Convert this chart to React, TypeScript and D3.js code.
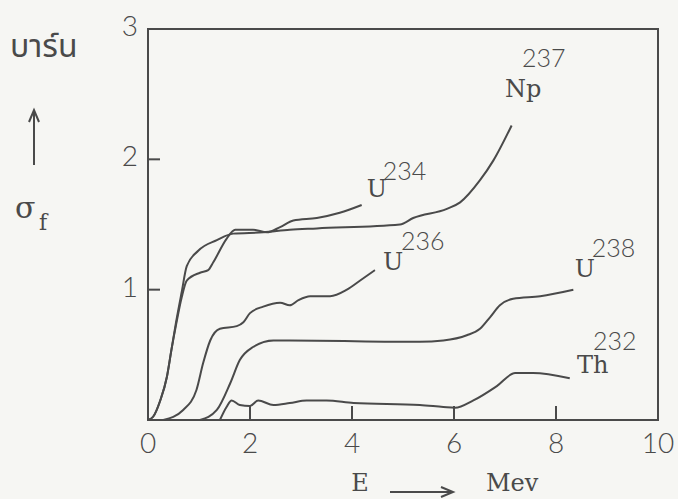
import React, { useEffect, useRef } from 'react';
import * as d3 from 'd3';

// fission cross-section curves (E in MeV, sigma in barn)
const u234 = [
  [0, 0], [0.1, 0.025], [0.24, 0.15], [0.37, 0.33], [0.46, 0.54], [0.55, 0.73], [0.66, 0.94],
  [0.76, 1.07], [1.02, 1.13], [1.18, 1.15], [1.28, 1.21], [1.54, 1.39], [1.71, 1.46],
  [2.06, 1.46], [2.33, 1.44], [2.59, 1.48], [2.85, 1.53], [3.31, 1.55], [3.76, 1.59], [4.19, 1.65]
];
const np237 = [
  [0, 0], [0.1, 0.025], [0.24, 0.15], [0.37, 0.33], [0.46, 0.54], [0.55, 0.75], [0.66, 0.98],
  [0.76, 1.18], [0.99, 1.3], [1.35, 1.38], [1.67, 1.43], [2.26, 1.44], [2.78, 1.46], [3.31, 1.47],
  [4.94, 1.5], [5.2, 1.55], [5.86, 1.62], [6.12, 1.67], [6.51, 1.84], [6.77, 1.99], [7.13, 2.26]
];
const u236 = [
  [0.3, 0], [0.69, 0.077], [0.95, 0.23], [1.08, 0.435], [1.22, 0.61], [1.41, 0.7], [1.74, 0.72],
  [1.87, 0.75], [2.0, 0.82], [2.26, 0.87], [2.59, 0.9], [2.78, 0.88], [2.95, 0.92], [3.18, 0.95],
  [3.57, 0.95], [3.9, 1.0], [4.16, 1.07], [4.45, 1.15]
];
const u238 = [
  [1.02, 0], [1.35, 0.077], [1.61, 0.28], [1.8, 0.46], [2.06, 0.56], [2.46, 0.61], [2.78, 0.61],
  [5.33, 0.6], [5.79, 0.61], [6.25, 0.65], [6.51, 0.7], [6.71, 0.79], [6.9, 0.88], [7.16, 0.93],
  [7.69, 0.95], [8.34, 1.0]
];
const th232 = [
  [1.41, 0], [1.54, 0.1], [1.64, 0.15], [1.8, 0.115], [2.0, 0.107], [2.16, 0.15], [2.46, 0.115],
  [2.78, 0.13], [3.11, 0.15], [3.5, 0.15], [4.03, 0.13], [5.33, 0.115], [5.79, 0.1], [6.02, 0.094],
  [6.38, 0.15], [6.84, 0.26], [7.2, 0.36], [7.55, 0.36], [8.27, 0.32]
];

const xTicks = [0, 2, 4, 6, 8, 10];
const yTicks = [1, 2, 3];
const innerTicks = [2, 4, 6, 8];

// label text, mass number, anchor (E, sigma)
const labels = [
  { sym: 'U', mass: '234', e: 4.29, s: 1.71, sx: 16, sy: -17 },
  { sym: 'Np', mass: '237', e: 7.0, s: 2.48, sx: 17, sy: -30 },
  { sym: 'U', mass: '236', e: 4.61, s: 1.15, sx: 18, sy: -20 },
  { sym: 'U', mass: '238', e: 8.37, s: 1.1, sx: 17, sy: -20 },
  { sym: 'Th', mass: '232', e: 8.41, s: 0.36, sx: 16, sy: -23 }
];

const ink = '#4a4a4a';

function App() {
  const ref = useRef(null);

  useEffect(() => {
    const svg = d3.select(ref.current);
    svg.selectAll('*').remove();

    const x = d3.scaleLinear().domain([0, 10]).range([148, 658]);
    const y = d3.scaleLinear().domain([0, 3]).range([420, 29]);

    svg.append('rect').attr('width', 678).attr('height', 499).attr('fill', '#f6f6f3');

    // frame
    svg.append('path')
      .attr('d', `M${x(0)},${y(3)}H${x(10)}V${y(0)}H${x(0)}Z`)
      .attr('fill', 'none').attr('stroke', ink).attr('stroke-width', 2);

    svg.selectAll('.yt').data(yTicks.slice(0, 2)).enter().append('line')
      .attr('x1', x(0)).attr('x2', x(0) + 12)
      .attr('y1', d => y(d)).attr('y2', d => y(d))
      .attr('stroke', ink).attr('stroke-width', 2);

    svg.selectAll('.xt').data(innerTicks).enter().append('line')
      .attr('x1', d => x(d)).attr('x2', d => x(d))
      .attr('y1', y(0)).attr('y2', y(0) - 14)
      .attr('stroke', ink).attr('stroke-width', 2);

    const tickFont = 'Lato, "DejaVu Sans", sans-serif';
    svg.selectAll('.xl').data(xTicks).enter().append('text')
      .attr('x', d => x(d)).attr('y', 453)
      .attr('text-anchor', 'middle')
      .attr('font-family', tickFont).attr('font-weight', 300).attr('font-size', 28)
      .attr('fill', ink).text(d => d);

    svg.selectAll('.yl').data(yTicks).enter().append('text')
      .attr('x', 138).attr('y', d => y(d) + 7)
      .attr('text-anchor', 'end')
      .attr('font-family', tickFont).attr('font-weight', 300).attr('font-size', 28)
      .attr('fill', ink).text(d => d);

    const line = d3.line()
      .x(d => x(d[0]))
      .y(d => y(d[1]))
      .curve(d3.curveMonotoneX);

    [u234, np237, u236, u238, th232].forEach(s => {
      svg.append('path')
        .datum(s)
        .attr('fill', 'none')
        .attr('stroke', ink)
        .attr('stroke-width', 2)
        .attr('stroke-linejoin', 'round')
        .attr('d', line);
    });

    const slab = '"DejaVu Serif", serif';
    labels.forEach(l => {
      svg.append('text')
        .attr('x', x(l.e)).attr('y', y(l.s))
        .attr('font-family', slab).attr('font-size', 24)
        .attr('fill', ink).text(l.sym);
      svg.append('text')
        .attr('x', x(l.e) + l.sx).attr('y', y(l.s) + l.sy)
        .attr('font-family', tickFont).attr('font-weight', 300).attr('font-size', 25)
        .attr('fill', ink).text(l.mass);
    });

    // y axis title
    svg.append('text')
      .attr('x', 10).attr('y', 57)
      .attr('font-family', '"Noto Sans Thai", "Noto Sans", "DejaVu Sans", sans-serif')
      .attr('font-size', 32).attr('fill', ink)
      .text('บาร์น');
    svg.append('line')
      .attr('x1', 34).attr('x2', 34).attr('y1', 165).attr('y2', 112)
      .attr('stroke', ink).attr('stroke-width', 2);
    svg.append('path')
      .attr('d', 'M29,122L34,110L39,122')
      .attr('fill', 'none').attr('stroke', ink).attr('stroke-width', 2);
    svg.append('text')
      .attr('x', 15).attr('y', 218)
      .attr('font-family', slab).attr('font-size', 30)
      .attr('fill', ink).text('σ');
    svg.append('text')
      .attr('x', 39).attr('y', 230)
      .attr('font-family', slab).attr('font-size', 22)
      .attr('fill', ink).text('f');

    // x axis title
    svg.append('text')
      .attr('x', 360).attr('y', 491).attr('text-anchor', 'middle')
      .attr('font-family', slab).attr('font-size', 24)
      .attr('fill', ink).text('E');
    svg.append('line')
      .attr('x1', 390).attr('x2', 452).attr('y1', 492).attr('y2', 492)
      .attr('stroke', ink).attr('stroke-width', 2);
    svg.append('path')
      .attr('d', 'M441,487L453,492L441,497')
      .attr('fill', 'none').attr('stroke', ink).attr('stroke-width', 2);
    svg.append('text')
      .attr('x', 486).attr('y', 491)
      .attr('font-family', slab).attr('font-size', 24)
      .attr('fill', ink).text('Mev');
  }, []);

  return (
    <svg ref={ref} width="678" height="499" style={{ position: 'absolute', left: 0, top: 0 }} />
  );
}

export default App;
